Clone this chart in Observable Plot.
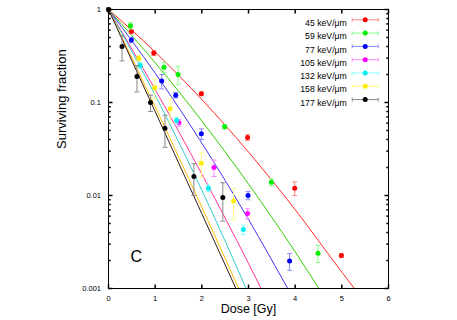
<!DOCTYPE html>
<html><head><meta charset="utf-8">
<script src="https://cdn.jsdelivr.net/npm/d3@7"></script>
<script src="https://cdn.jsdelivr.net/npm/@observablehq/plot@0.6"></script>
<style>body{margin:0;background:#fff;}</style>
</head><body><div id="chart"></div>
<script>
// ---- labels & colours ----
const seriesLabels = ["45 keV/μm","59 keV/μm","77 keV/μm","105 keV/μm","132 keV/μm","158 keV/μm","177 keV/μm"];
const pointColors = ["#ff0000","#00ee00","#0000ff","#ff00ff","#00eeee","#ffee00","#000000"];
const lineColors  = ["#ff2a2a","#33cc00","#4433ee","#ff3399","#33cccc","#ffbb00","#331a1a"];
const barColors   = ["#ff8888","#88ff88","#8888ff","#ff88ff","#88ffff","#ffff88","#888888"];

// ---- measured points (dose [Gy], surviving fraction, error) ----
const dose45 = [0,0.49,0.97,1.99,2.98,3.99,4.99];
const surv45 = [1,0.58,0.34,0.124,0.042,0.012,0.00226];
const err45  = [0,0.02,0.02,0.006,0.003,0.002,0.0001];
const dose59 = [0,0.47,1.19,1.49,2.49,3.49,4.49];
const surv59 = [1,0.67,0.24,0.20,0.055,0.0139,0.0024];
const err59  = [0,0.05,0.03,0.045,0.003,0.0012,0.0005];
const dose77 = [0,0.49,1.14,1.44,1.99,2.99,3.88];
const surv77 = [1,0.47,0.17,0.12,0.046,0.010,0.00197];
const err77  = [0,0.03,0.03,0.008,0.006,0.001,0.0004];
const dose105 = [0,1.51,2.26,2.98];
const surv105 = [1,0.0605,0.020,0.0064];
const err105  = [0,0.005,0.004,0.0008];
const dose132 = [0,0.68,1.46,2.14,2.89];
const surv132 = [1,0.25,0.064,0.012,0.0043];
const err132  = [0,0.02,0.005,0.001,0.0005];
const dose158 = [0,0.65,0.99,1.32,1.99,2.68];
const surv158 = [1,0.30,0.144,0.0855,0.0222,0.0087];
const err158  = [0,0.02,0.035,0.024,0.0065,0.0032];
const dose177 = [0,0.29,0.61,0.90,1.21,1.83,2.45];
const surv177 = [1,0.40,0.19,0.10,0.053,0.016,0.0095];
const err177  = [0,0.12,0.06,0.02,0.02,0.006,0.0042];

// ---- fitted curves ----
const fitDose45 = [0,1,2,3,4,5,5.27];
const fitSurv45 = [1,0.349,0.1076,0.0293,0.00705,0.0015,0.001];
const fitDose59 = [0,1,2,3,4,4.51];
const fitSurv59 = [1,0.268,0.0634,0.0133,0.00248,0.001];
const fitDose77 = [0,1,2,3,3.84];
const fitSurv77 = [1,0.207,0.0366,0.00553,0.001];
const fitDose105 = [0,1,2,3,3.27];
const fitSurv105 = [1,0.138,0.0170,0.00186,0.001];
const fitDose132 = [0,1,2,2.95];
const fitSurv132 = [1,0.120,0.0114,0.001];
const fitDose158 = [0,1,2,2.79];
const fitSurv158 = [1,0.0899,0.00749,0.001];
const fitDose177 = [0,1,2,2.73];
const fitSurv177 = [1,0.0798,0.00637,0.001];

// ---- axes ----
const xTicks = [0,1,2,3,4,5,6];
const xTickLabels = ["0","1","2","3","4","5","6"];
const yTicks = [1,0.1,0.01,0.001];
const yTickLabels = ["1","0.1","0.01","0.001"];
const yMinor = [0.002,0.003,0.004,0.005,0.006,0.007,0.008,0.009,0.02,0.03,0.04,0.05,0.06,0.07,0.08,0.09,0.2,0.3,0.4,0.5,0.6,0.7,0.8,0.9];
const xTitle = "Dose [Gy]";
const yTitle = "Surviving fraction";
const panelLabel = "C";

const doses = [dose45,dose59,dose77,dose105,dose132,dose158,dose177];
const survs = [surv45,surv59,surv77,surv105,surv132,surv158,surv177];
const errs  = [err45,err59,err77,err105,err132,err158,err177];
const fitDoses = [fitDose45,fitDose59,fitDose77,fitDose105,fitDose132,fitDose158,fitDose177];
const fitSurvs = [fitSurv45,fitSurv59,fitSurv77,fitSurv105,fitSurv132,fitSurv158,fitSurv177];

const seg = (x1,y1,x2,y2) => ({draw(ctx){ ctx.moveTo(x1,y1); ctx.lineTo(x2,y2); }});
const capSym = seg(-2.5,0,2.5,0);
const legendSym = {draw(ctx){ ctx.moveTo(-13,0); ctx.lineTo(13,0); ctx.moveTo(-13,-2); ctx.lineTo(-13,2); ctx.moveTo(13,-2); ctx.lineTo(13,2); }};

const marks = [];
// curves
seriesLabels.forEach((lab,i) => {
  const rows = fitDoses[i].map((d,j) => ({d, s: fitSurvs[i][j]}));
  marks.push(Plot.line(rows, {x:"d", y:"s", stroke: lineColors[i], strokeWidth: 1, curve: "monotone-x", clip: true}));
});
// points + error bars
seriesLabels.forEach((lab,i) => {
  const rows = doses[i].map((d,j) => ({d, s: survs[i][j], e: errs[i][j]}));
  const eb = rows.filter(r => r.e > 0);
  marks.push(Plot.ruleX(eb, {x:"d", y1: r => r.s - r.e, y2: r => r.s + r.e, stroke: barColors[i], strokeWidth: 1}));
  marks.push(Plot.dot(eb, {x:"d", y: r => r.s - r.e, symbol: capSym, r: 2.5, stroke: barColors[i], strokeWidth: 1}));
  marks.push(Plot.dot(eb, {x:"d", y: r => r.s + r.e, symbol: capSym, r: 2.5, stroke: barColors[i], strokeWidth: 1}));
  marks.push(Plot.dot(rows, {x:"d", y:"s", r: 2.5, fill: pointColors[i], stroke: "none"}));
});
// legend
seriesLabels.forEach((lab,i) => {
  const dy = 10.3 + 13.3*i;
  marks.push(Plot.text([lab], {frameAnchor:"top-right", dx:-41.7, dy, textAnchor:"end", fontSize: 8.7, text: d => d}));
  marks.push(Plot.dot([0], {frameAnchor:"top-right", dx:-23.3, dy, symbol: legendSym, r: 1, stroke: barColors[i], strokeWidth: 1}));
  marks.push(Plot.dot([0], {frameAnchor:"top-right", dx:-23.3, dy, r: 2.5, fill: pointColors[i], stroke:"none"}));
});
// inward ticks
const yMajor = yTicks.map(v => ({v}));
const yMin = yMinor.map(v => ({v}));
const xT = xTicks.map(v => ({v}));
marks.push(Plot.dot(yMajor, {x: () => 0, y:"v", symbol: seg(0,0,4,0), r:1, stroke:"black"}));
marks.push(Plot.dot(yMin, {x: () => 0, y:"v", symbol: seg(0,0,2.2,0), r:1, stroke:"black"}));
marks.push(Plot.dot(yMajor, {x: () => 6, y:"v", symbol: seg(0,0,-4,0), r:1, stroke:"black"}));
marks.push(Plot.dot(yMin, {x: () => 6, y:"v", symbol: seg(0,0,-2.2,0), r:1, stroke:"black"}));
marks.push(Plot.dot(xT, {x:"v", y: () => 0.001, symbol: seg(0,0,0,-4), r:1, stroke:"black"}));
marks.push(Plot.dot(xT, {x:"v", y: () => 1, symbol: seg(0,0,0,4), r:1, stroke:"black"}));
marks.push(Plot.frame({stroke:"black", strokeWidth: 1}));
marks.push(Plot.axisX({ticks: xTicks, tickFormat: d => xTickLabels[xTicks.indexOf(d)], tickSize: 0, tickPadding: 7, fontSize: 7.5, label: null}));
marks.push(Plot.axisY({ticks: yTicks, tickFormat: d => yTickLabels[yTicks.indexOf(d)], tickSize: 0, tickPadding: 7.5, fontSize: 7.5, label: null}));
marks.push(Plot.text([xTitle], {frameAnchor:"bottom", dy: 24, fontSize: 12.5, text: d => d}));
marks.push(Plot.text([yTitle], {frameAnchor:"left", dx: -47, rotate: -90, fontSize: 13, text: d => d}));
marks.push(Plot.text([panelLabel], {frameAnchor:"bottom-left", dx: 22, dy: -26.5, textAnchor:"start", fontSize: 16, text: d => d}));

const chart = Plot.plot({
  width: 457, height: 320,
  marginLeft: 108, marginRight: 69, marginTop: 9, marginBottom: 32,
  x: {domain: [0,6]},
  y: {type: "log", domain: [0.001, 1]},
  style: {fontFamily: "'Liberation Sans', Arial, sans-serif", background: "white", color: "black"},
  marks
});
document.getElementById("chart").appendChild(chart);
</script>
</body></html>
